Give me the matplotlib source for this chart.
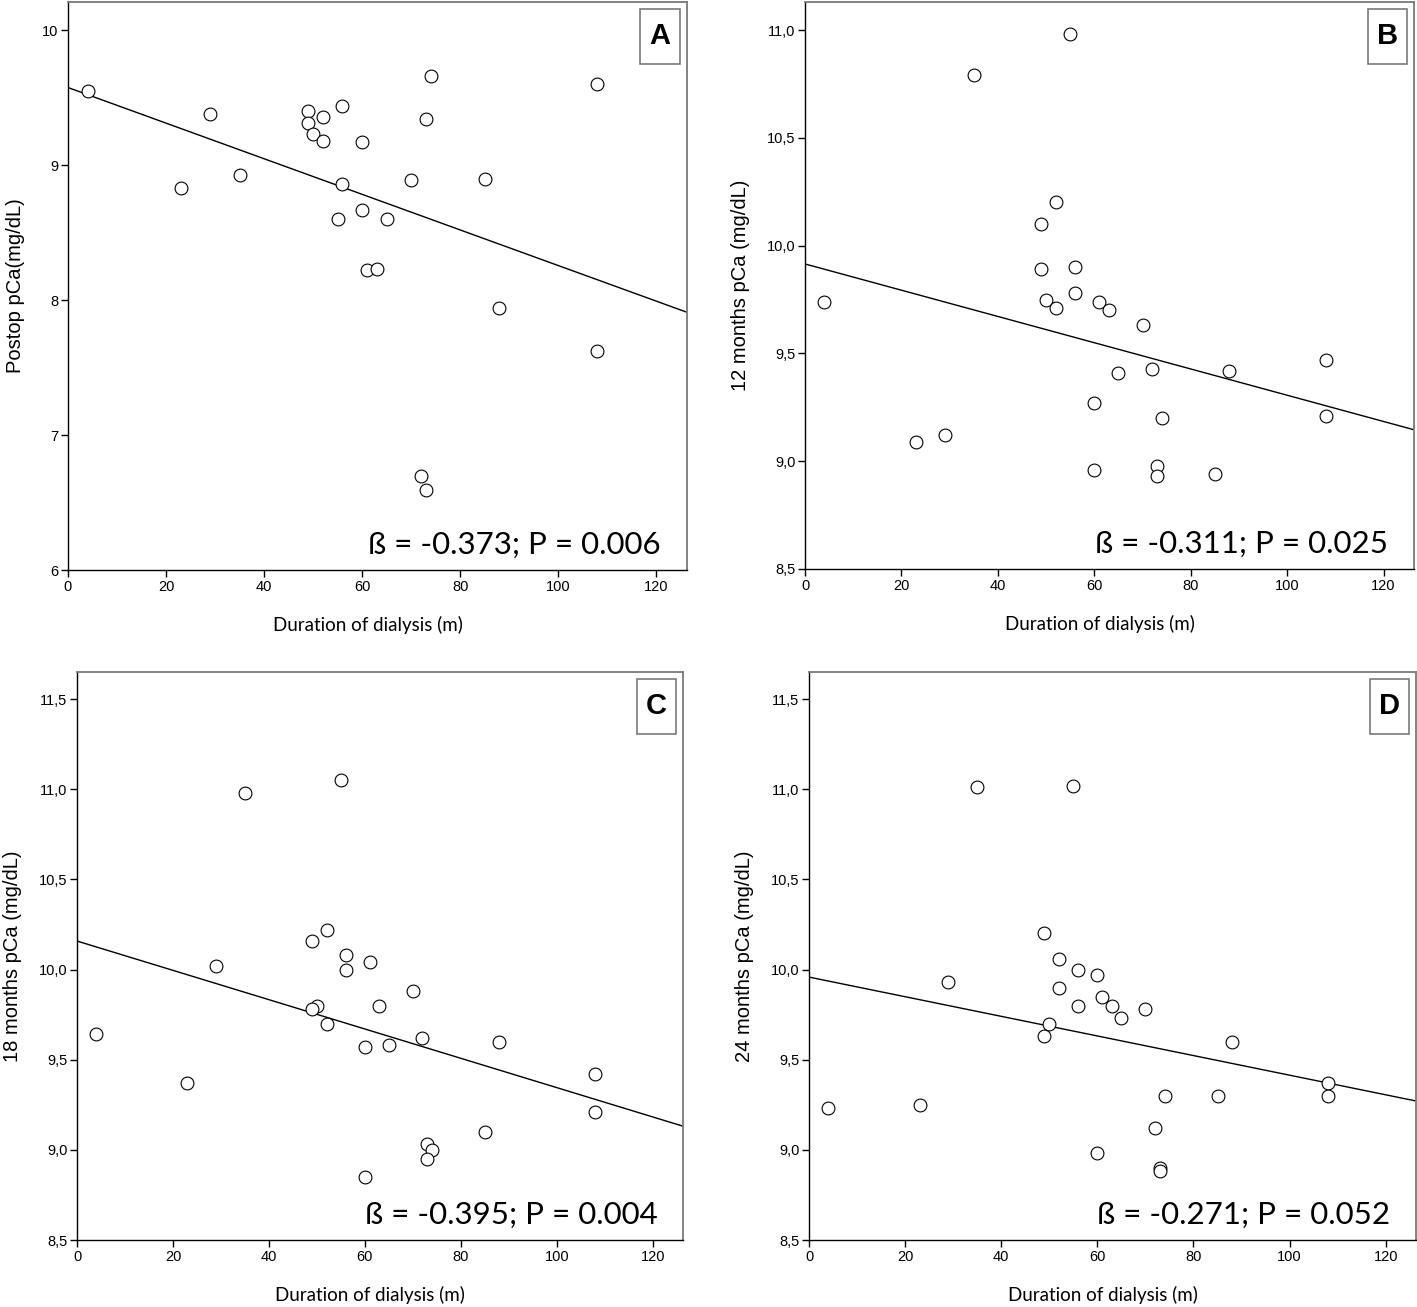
import numpy as np
import matplotlib
matplotlib.use("Agg")
import matplotlib.pyplot as plt
from matplotlib.patches import Rectangle
from matplotlib.ticker import FuncFormatter

# duration of dialysis (months), same patients in every panel
dur_a = [4, 23, 29, 35, 49, 49, 50, 52, 52, 56, 56, 55, 60, 60, 61, 63, 65, 70, 73, 74, 72, 73, 85, 88, 108, 108]
pca_a = [9.55, 8.83, 9.38, 8.93, 9.40, 9.31, 9.23, 9.36, 9.18, 9.44, 8.86, 8.60, 9.17, 8.67, 8.22, 8.23, 8.60,
         8.89, 9.34, 9.66, 6.70, 6.59, 8.90, 7.94, 9.60, 7.62]

dur_b = [4, 23, 29, 35, 55, 52, 49, 49, 56, 50, 52, 56, 61, 63, 70, 65, 72, 60, 74, 60, 73, 73, 85, 88, 108, 108]
pca_b = [9.74, 9.09, 9.12, 10.79, 10.98, 10.20, 10.10, 9.89, 9.90, 9.75, 9.71, 9.78, 9.74, 9.70, 9.63, 9.41,
         9.43, 9.27, 9.20, 8.96, 8.98, 8.93, 8.94, 9.42, 9.47, 9.21]

dur_c = [4, 23, 29, 35, 55, 52, 49, 56, 56, 61, 70, 50, 49, 63, 52, 72, 60, 65, 88, 108, 108, 85, 73, 74, 73, 60]
pca_c = [9.64, 9.37, 10.02, 10.98, 11.05, 10.22, 10.16, 10.08, 10.00, 10.04, 9.88, 9.80, 9.78, 9.80, 9.70,
         9.62, 9.57, 9.58, 9.60, 9.42, 9.21, 9.10, 9.03, 9.00, 8.95, 8.85]

dur_d = [4, 23, 29, 35, 55, 49, 52, 56, 60, 52, 61, 56, 63, 70, 65, 50, 49, 88, 108, 108, 85, 74, 72, 60, 73, 73]
pca_d = [9.23, 9.25, 9.93, 11.01, 11.02, 10.20, 10.06, 10.00, 9.97, 9.90, 9.85, 9.80, 9.80, 9.78, 9.73, 9.70,
         9.63, 9.60, 9.37, 9.30, 9.30, 9.30, 9.12, 8.98, 8.90, 8.88]

# fitted regression lines (intercept, slope) as shown
intercepts = [9.576, 9.915, 10.158, 9.958]
slopes = [-0.01319, -0.00609, -0.00813, -0.00544]

ylabels = ["Postop pCa(mg/dL)", "12 months pCa (mg/dL)", "18 months pCa (mg/dL)", "24 months pCa (mg/dL)"]
stats = ["ß = -0.373; P = 0.006", "ß = -0.311; P = 0.025", "ß = -0.395; P = 0.004", "ß = -0.271; P = 0.052"]
letters = ["A", "B", "C", "D"]
yticks = [[6, 7, 8, 9, 10], [8.5, 9.0, 9.5, 10.0, 10.5, 11.0],
          [8.5, 9.0, 9.5, 10.0, 10.5, 11.0, 11.5], [8.5, 9.0, 9.5, 10.0, 10.5, 11.0, 11.5]]
ylims = [(6, 10.21), (8.5, 11.13), (8.5, 11.65), (8.5, 11.65)]
xmax = 126.3

W, H = 1417, 1307
# axes boxes in pixels: left, right, top, bottom
boxes = [(68, 687, 2, 570), (805, 1414, 2, 569), (77, 683, 672, 1240), (809, 1416, 672, 1240)]

fig = plt.figure(figsize=(W / 100, H / 100), dpi=100)

xs_all = [dur_a, dur_b, dur_c, dur_d]
ys_all = [pca_a, pca_b, pca_c, pca_d]

for i in range(4):
    l, r, t, b = boxes[i]
    ax = fig.add_axes([l / W, 1 - b / H, (r - l) / W, (b - t) / H])
    ax.scatter(xs_all[i], ys_all[i], s=85, facecolors="white", edgecolors="black", linewidths=0.8, zorder=3)
    xl = np.array([0, xmax])
    ax.plot(xl, intercepts[i] + slopes[i] * xl, color="black", lw=1.0, zorder=2)
    ax.set_xlim(0, xmax)
    ax.set_ylim(*ylims[i])
    ax.set_xticks([0, 20, 40, 60, 80, 100, 120])
    ax.set_yticks(yticks[i])
    if i == 0:
        ax.yaxis.set_major_formatter(FuncFormatter(lambda v, p: f"{v:.0f}"))
    else:
        ax.yaxis.set_major_formatter(FuncFormatter(lambda v, p: f"{v:.1f}".replace(".", ",")))
    for lab in ax.get_xticklabels() + ax.get_yticklabels():
        lab.set_fontfamily("Liberation Sans")
        lab.set_fontsize(10.5)
    ax.tick_params(direction="out", length=5, width=1, pad=2)
    for s in ["top", "right"]:
        ax.spines[s].set_color("#7a7a7a")
        ax.spines[s].set_linewidth(1.3)
    for s in ["left", "bottom"]:
        ax.spines[s].set_color("black")
        ax.spines[s].set_linewidth(1.0)
    ax.set_ylabel(ylabels[i], family="Liberation Sans", fontsize=14.5, labelpad=12)
    ax.set_xlabel("Duration of dialysis (m)", family="Lato", fontsize=13.5)
    ax.xaxis.set_label_coords(0.484, -0.081)
    ax.text(0.958, 0.028, stats[i], transform=ax.transAxes, ha="right", va="baseline",
            family="Lato", fontsize=22.5)
    ax.add_patch(Rectangle((0.924, 0.891), 0.064, 0.097, transform=ax.transAxes,
                           facecolor="white", edgecolor="#7a7a7a", lw=1.2, zorder=4))
    ax.text(0.956, 0.94, letters[i], transform=ax.transAxes, ha="center", va="center",
            family="Liberation Sans", fontweight="bold", fontsize=21, zorder=5)

fig.savefig("out.png", dpi=100)
